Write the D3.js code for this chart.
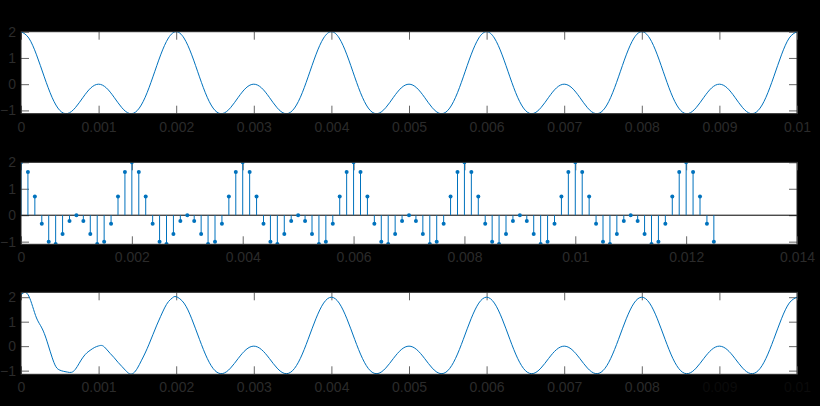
<!DOCTYPE html>
<html>
<head>
<meta charset="utf-8">
<script src="https://cdn.jsdelivr.net/npm/d3@7"></script>
<style>
  html, body { margin: 0; padding: 0; background: #000; }
  svg { display: block; }
</style>
</head>
<body>
<div id="chart"></div>
<script>
// ---- data ----

// continuous signal, one value every 0.0001 s, 0 .. 0.01
var sigStep = 0.0001;
var sigValues = [
  2, 1.76, 1.118, 0.279, -0.5, -1, -1.118, -0.897, -0.5, -0.142, 0, -0.142, -0.5, -0.897, -1.118, -1, -0.5, 0.279, 1.118, 1.76,
  2, 1.76, 1.118, 0.279, -0.5, -1, -1.118, -0.897, -0.5, -0.142, 0, -0.142, -0.5, -0.897, -1.118, -1, -0.5, 0.279, 1.118, 1.76,
  2, 1.76, 1.118, 0.279, -0.5, -1, -1.118, -0.897, -0.5, -0.142, 0, -0.142, -0.5, -0.897, -1.118, -1, -0.5, 0.279, 1.118, 1.76,
  2, 1.76, 1.118, 0.279, -0.5, -1, -1.118, -0.897, -0.5, -0.142, 0, -0.142, -0.5, -0.897, -1.118, -1, -0.5, 0.279, 1.118, 1.76,
  2, 1.76, 1.118, 0.279, -0.5, -1, -1.118, -0.897, -0.5, -0.142, 0, -0.142, -0.5, -0.897, -1.118, -1, -0.5, 0.279, 1.118, 1.76,
  2
];

// samples, every 0.000125 s (n = 0 .. 100)
var sampStep = 0.000125;
var sampValues = [
  2, 1.63, 0.71, -0.32, -1, -1.09, -0.71, -0.22, 0, -0.22, -0.71, -1.09, -1, -0.32, 0.71, 1.63,
  2, 1.63, 0.71, -0.32, -1, -1.09, -0.71, -0.22, 0, -0.22, -0.71, -1.09, -1, -0.32, 0.71, 1.63,
  2, 1.63, 0.71, -0.32, -1, -1.09, -0.71, -0.22, 0, -0.22, -0.71, -1.09, -1, -0.32, 0.71, 1.63,
  2, 1.63, 0.71, -0.32, -1, -1.09, -0.71, -0.22, 0, -0.22, -0.71, -1.09, -1, -0.32, 0.71, 1.63,
  2, 1.63, 0.71, -0.32, -1, -1.09, -0.71, -0.22, 0, -0.22, -0.71, -1.09, -1, -0.32, 0.71, 1.63,
  2, 1.63, 0.71, -0.32, -1, -1.09, -0.71, -0.22, 0, -0.22, -0.71, -1.09, -1, -0.32, 0.71, 1.63,
  2, 1.63, 0.71, -0.32, -1
];

// reconstructed signal: 0 .. 0.002 every 0.00005 s (edge ripple), then every 0.0001 s
var reconHeadStep = 0.00005;
var reconHead = [
  2.09, 2.2, 2.05, 1.62, 1.15, 0.85, 0.52, 0.05, -0.45, -0.84,
  -0.98, -1.03, -1.06, -1.07, -0.95, -0.7, -0.45, -0.27, -0.15, -0.05,
  0.01, 0.02, -0.12, -0.3, -0.47, -0.66, -0.83, -1.0, -1.13, -1.1,
  -0.9, -0.6, -0.28, 0.08, 0.47, 0.86, 1.22, 1.56, 1.82, 1.97,
  2.02
];
var reconTailStep = 0.0001;
var reconTail = [
  1.76, 1.118, 0.279, -0.5, -1, -1.118, -0.897, -0.5, -0.142, 0, -0.142, -0.5, -0.897, -1.118, -1, -0.5, 0.279, 1.118, 1.76, 2,
  1.76, 1.118, 0.279, -0.5, -1, -1.118, -0.897, -0.5, -0.142, 0, -0.142, -0.5, -0.897, -1.118, -1, -0.5, 0.279, 1.118, 1.76, 2,
  1.76, 1.118, 0.279, -0.5, -1, -1.118, -0.897, -0.5, -0.142, 0, -0.142, -0.5, -0.897, -1.118, -1, -0.5, 0.279, 1.118, 1.76, 2,
  1.76, 1.118, 0.279, -0.5, -1, -1.118, -0.897, -0.5, -0.142, 0, -0.142, -0.5, -0.897, -1.118, -1, -0.5, 0.279, 1.118, 1.76, 2
];

// ticks
var yTicks = [-1, 0, 1, 2];
var xTicks10 = [0, 0.001, 0.002, 0.003, 0.004, 0.005, 0.006, 0.007, 0.008, 0.009, 0.01];
var xLabels10 = ["0", "0.001", "0.002", "0.003", "0.004", "0.005", "0.006", "0.007", "0.008", "0.009", "0.01"];
var xTicks14 = [0, 0.002, 0.004, 0.006, 0.008, 0.01, 0.012, 0.014];
var xLabels14 = ["0", "0.002", "0.004", "0.006", "0.008", "0.01", "0.012", "0.014"];

// ---- layout ----
var W = 820, H = 406;
var left = 21, right = 797;
var blue = "#0072BD", axisCol = "#262626", textCol = "#2b2b2b";

var svg = d3.select("#chart").append("svg")
    .attr("width", W)
    .attr("height", H)
    .style("background", "#000");

function panel(id, top, bottom, xDomain, yDomain, xt, xl, faintFrom) {
  var x = d3.scaleLinear().domain(xDomain).range([left, right]);
  var y = d3.scaleLinear().domain(yDomain).range([bottom, top]);

  svg.append("rect")
      .attr("x", left).attr("y", top)
      .attr("width", right - left).attr("height", bottom - top)
      .attr("fill", "#fff");

  svg.append("clipPath").attr("id", "clip" + id)
    .append("rect")
      .attr("x", left).attr("y", top)
      .attr("width", right - left).attr("height", bottom - top);

  var fmt = function(d, i) { return xl[i]; };

  // inward ticks on all four sides
  var gx = svg.append("g")
      .attr("transform", "translate(0," + bottom + ")")
      .style("color", "#666")
      .call(d3.axisBottom(x).tickValues(xt).tickFormat(fmt).tickSizeInner(-8).tickSizeOuter(0).tickPadding(8));
  svg.append("g")
      .attr("transform", "translate(0," + top + ")")
      .style("color", "#666")
      .call(d3.axisTop(x).tickValues(xt).tickFormat("").tickSizeInner(-8).tickSizeOuter(0));
  var gy = svg.append("g")
      .attr("transform", "translate(" + left + ",0)")
      .style("color", "#666")
      .call(d3.axisLeft(y).tickValues(yTicks).tickFormat(d3.format("d")).tickSizeInner(-8).tickSizeOuter(0).tickPadding(5));
  svg.append("g")
      .attr("transform", "translate(" + right + ",0)")
      .style("color", "#666")
      .call(d3.axisRight(y).tickValues(yTicks).tickFormat("").tickSizeInner(-8).tickSizeOuter(0));

  svg.selectAll(".domain").remove();
  [gx, gy].forEach(function(g) {
    g.selectAll("text")
        .attr("font-family", "'Liberation Sans', Arial, sans-serif")
        .attr("font-size", 14)
        .attr("fill", textCol);
  });
  if (faintFrom != null) {
    gx.selectAll("text").filter(function(d) { return d >= faintFrom; }).attr("fill", "#0b0b0b");
  }

  var plot = svg.append("g").attr("clip-path", "url(#clip" + id + ")");
  return { x: x, y: y, plot: plot, top: top, bottom: bottom };
}

function frame(p) {
  svg.append("rect")
      .attr("x", left).attr("y", p.top)
      .attr("width", right - left).attr("height", p.bottom - p.top)
      .attr("fill", "none")
      .attr("stroke", axisCol)
      .attr("stroke-width", 1);
}

// 1: continuous signal
var p1 = panel(1, 31.7, 113.7, [0, 0.01], [-1.125, 2], xTicks10, xLabels10);
var line1 = d3.line()
    .x(function(d, i) { return p1.x(i * sigStep); })
    .y(function(d) { return p1.y(d); })
    .curve(d3.curveNatural);
p1.plot.append("path")
    .datum(sigValues)
    .attr("d", line1)
    .attr("fill", "none")
    .attr("stroke", blue)
    .attr("stroke-width", 1);
frame(p1);

// 2: sampled signal (stem)
var p2 = panel(2, 162.3, 244.3, [0, 0.014], [-1.1, 2], xTicks14, xLabels14);
p2.plot.append("line")
    .attr("x1", left).attr("x2", right)
    .attr("y1", p2.y(0)).attr("y2", p2.y(0))
    .attr("stroke", "#000").attr("stroke-width", 1);
p2.plot.selectAll(".stem")
    .data(sampValues)
    .enter().append("line")
    .attr("class", "stem")
    .attr("x1", function(d, i) { return p2.x(i * sampStep); })
    .attr("x2", function(d, i) { return p2.x(i * sampStep); })
    .attr("y1", p2.y(0))
    .attr("y2", function(d) { return p2.y(d); })
    .attr("stroke", blue)
    .attr("stroke-width", 1);
p2.plot.selectAll(".dot")
    .data(sampValues)
    .enter().append("circle")
    .attr("class", "dot")
    .attr("cx", function(d, i) { return p2.x(i * sampStep); })
    .attr("cy", function(d) { return p2.y(d); })
    .attr("r", 2)
    .attr("fill", blue);
frame(p2);

// 3: reconstructed signal
var p3 = panel(3, 292.3, 374.3, [0, 0.01], [-1.15, 2.2], xTicks10, xLabels10, 0.009);
var reconPts = reconHead.map(function(v, i) { return [i * reconHeadStep, v]; })
    .concat(reconTail.map(function(v, i) { return [0.002 + (i + 1) * reconTailStep, v]; }));
var line3 = d3.line()
    .x(function(d) { return p3.x(d[0]); })
    .y(function(d) { return p3.y(d[1]); })
    .curve(d3.curveNatural);
p3.plot.append("path")
    .datum(reconPts)
    .attr("d", line3)
    .attr("fill", "none")
    .attr("stroke", blue)
    .attr("stroke-width", 1);
frame(p3);
</script>
</body>
</html>
